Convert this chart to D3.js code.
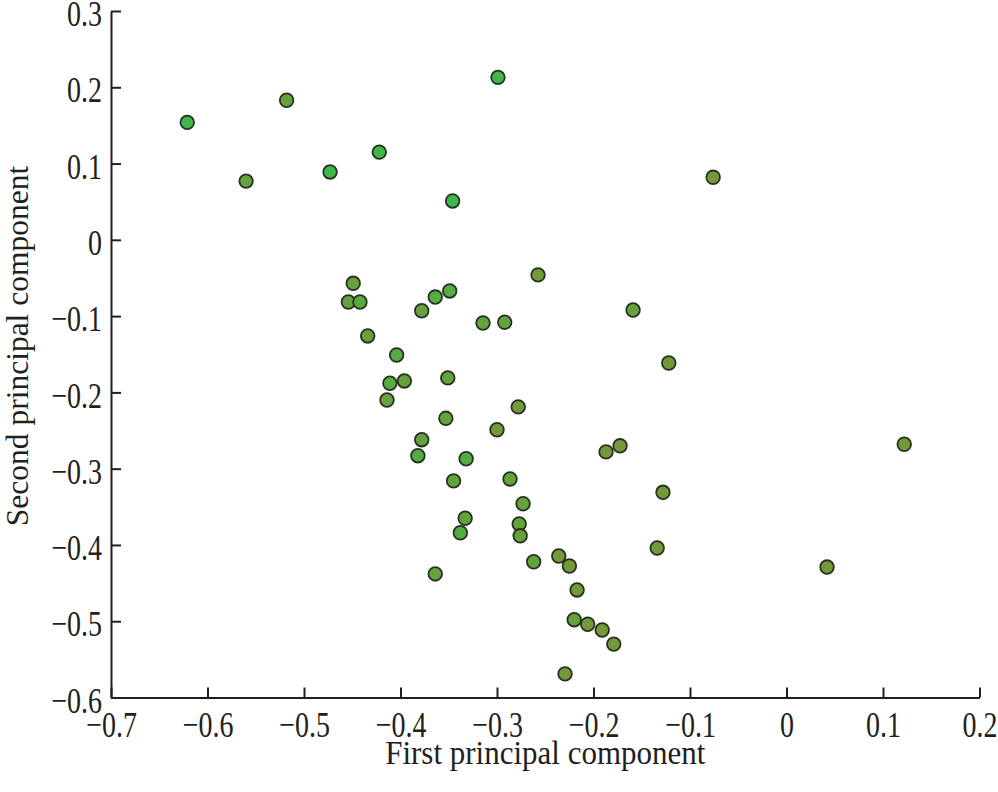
<!DOCTYPE html>
<html>
<head>
<meta charset="utf-8">
<script src="https://cdn.jsdelivr.net/npm/d3@7"></script>
<style>
  body { margin: 0; background: #fff; }
  svg { display: block; }
</style>
</head>
<body>
<div id="chart"></div>
<script>
// first principal component (x) for each sample
var pc1 = [-0.621, -0.518, -0.299, -0.560, -0.473, -0.422, -0.346, -0.076, -0.2575, -0.449,
           -0.454, -0.442, -0.364, -0.349, -0.378, -0.3145, -0.292, -0.159, -0.434, -0.404,
           -0.122, -0.411, -0.396, -0.351, -0.414, -0.278, -0.353, -0.300, -0.378, -0.1725,
           -0.187, 0.122, -0.382, -0.332, -0.345, -0.2865, -0.128, -0.273, -0.333, -0.277,
           -0.338, -0.276, -0.134, -0.236, -0.262, -0.225, 0.042, -0.364, -0.217, -0.220,
           -0.206, -0.191, -0.179, -0.2295];

// second principal component (y)
var pc2 = [0.154, 0.183, 0.213, 0.077, 0.089, 0.115, 0.051, 0.082, -0.046, -0.057,
           -0.0815, -0.0815, -0.075, -0.067, -0.093, -0.109, -0.108, -0.092, -0.126, -0.151,
           -0.1615, -0.188, -0.185, -0.181, -0.210, -0.219, -0.234, -0.249, -0.262, -0.270,
           -0.278, -0.268, -0.283, -0.287, -0.316, -0.3135, -0.331, -0.346, -0.365, -0.3725,
           -0.384, -0.388, -0.404, -0.4145, -0.422, -0.4276, -0.429, -0.438, -0.459, -0.498,
           -0.504, -0.5115, -0.530, -0.569];

// shade group of each sample (0 = bright green ... 3 = olive)
var shade = [0, 2, 0, 2, 0, 0, 0, 3, 3, 2,
             2, 1, 1, 1, 2, 2, 2, 2, 2, 1,
             3, 1, 2, 2, 2, 3, 2, 3, 2, 3,
             3, 3, 1, 1, 2, 2, 3, 2, 2, 2,
             1, 2, 3, 3, 2, 3, 3, 2, 3, 2,
             3, 3, 3, 3];

var xTicks = [-0.7, -0.6, -0.5, -0.4, -0.3, -0.2, -0.1, 0, 0.1, 0.2];
var yTicks = [-0.6, -0.5, -0.4, -0.3, -0.2, -0.1, 0, 0.1, 0.2, 0.3];

var svgWidth = 998, svgHeight = 792;
var margin = { top: 11, right: 18.5, bottom: 94.5, left: 111 };
var width = svgWidth - margin.left - margin.right;
var height = svgHeight - margin.top - margin.bottom;

var serif = '"Liberation Serif", "Times New Roman", serif';
var ink = "#231f20";
var stretch = 1.3; // tick digits in the figure are drawn tall

var svg = d3.select("#chart").append("svg")
    .attr("width", svgWidth)
    .attr("height", svgHeight);

var g = svg.append("g")
    .attr("transform", `translate(${margin.left},${margin.top})`);

var x = d3.scaleLinear().domain([-0.7, 0.2]).range([0, width]);
var y = d3.scaleLinear().domain([-0.6, 0.3]).range([height, 0]);

var color = d3.scaleOrdinal()
    .domain([0, 1, 2, 3])
    .range(["#3fb84b", "#55ad42", "#65a23c", "#74993a"]);

var fmt = d3.format(".1~f");

function styleAxis(sel) {
    sel.attr("font-family", serif).attr("font-size", 28);
    sel.selectAll("path, line").attr("stroke", ink).attr("stroke-width", 2);
    sel.selectAll("text").attr("fill", ink);
}

var xAxisG = g.append("g")
    .attr("transform", `translate(0,${height})`)
    .call(d3.axisBottom(x).tickValues(xTicks).tickFormat(fmt).tickSize(-10).tickSizeOuter(0))
    .call(styleAxis);

xAxisG.selectAll(".tick text")
    .attr("y", 0)
    .attr("transform", `translate(0,14) scale(1,${stretch})`);

var yAxisG = g.append("g")
    .call(d3.axisLeft(y).tickValues(yTicks).tickFormat(fmt).tickSize(-10).tickSizeOuter(0).tickPadding(9))
    .call(styleAxis);

yAxisG.selectAll(".tick text")
    .attr("transform", `translate(0,3) scale(1,${stretch})`);

var data = pc1.map((v, i) => ({ pc1: v, pc2: pc2[i], shade: shade[i] }));

g.append("g")
    .selectAll("circle")
    .data(data)
    .join("circle")
    .attr("cx", d => x(d.pc1))
    .attr("cy", d => y(d.pc2))
    .attr("r", 6.8)
    .attr("fill", d => color(d.shade))
    .attr("stroke", "#263322")
    .attr("stroke-width", 1.8);

svg.append("text")
    .attr("transform", `translate(${margin.left + width / 2},764) scale(1,1.12)`)
    .attr("text-anchor", "middle")
    .attr("font-family", serif)
    .attr("font-size", 31)
    .attr("fill", ink)
    .text("First principal component");

svg.append("text")
    .attr("transform", `translate(28,346) rotate(-90)`)
    .attr("text-anchor", "middle")
    .attr("font-family", serif)
    .attr("font-size", 31.5)
    .attr("fill", ink)
    .text("Second principal component");
</script>
</body>
</html>
